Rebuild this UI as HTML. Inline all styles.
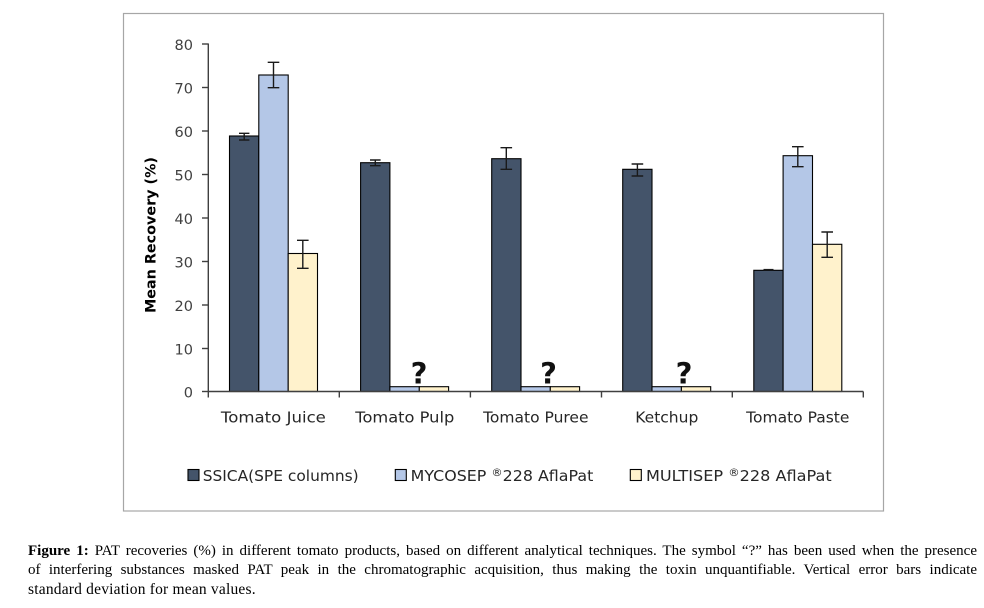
<!DOCTYPE html>
<html>
<head>
<meta charset="utf-8">
<style>
  html, body { margin:0; padding:0; background:#fff; }
  body { width:984px; height:608px; position:relative; overflow:hidden; }
  svg { position:absolute; left:0; top:0; }
  .cap { position:absolute; left:28px; width:949px; font-family:"Liberation Serif", serif; font-size:15px; line-height:19px; color:#000; }
  .j { text-align:justify; text-align-last:justify; }
</style>
</head>
<body>
<svg width="984" height="608" viewBox="0 0 984 608" xmlns="http://www.w3.org/2000/svg">
  <rect x="123.5" y="13.5" width="760" height="497.5" fill="#fff" stroke="#a6a6a6" stroke-width="1.2"/>

  <!-- y axis -->
  <g stroke="#404040" stroke-width="1.4" fill="none">
    <line x1="208.3" y1="43.5" x2="208.3" y2="391.5"/>
    <line x1="202" y1="44" x2="208.3" y2="44"/>
    <line x1="202" y1="87.5" x2="208.3" y2="87.5"/>
    <line x1="202" y1="131" x2="208.3" y2="131"/>
    <line x1="202" y1="174.5" x2="208.3" y2="174.5"/>
    <line x1="202" y1="218" x2="208.3" y2="218"/>
    <line x1="202" y1="261.5" x2="208.3" y2="261.5"/>
    <line x1="202" y1="305" x2="208.3" y2="305"/>
    <line x1="202" y1="348.5" x2="208.3" y2="348.5"/>
    <line x1="202" y1="391.5" x2="208.3" y2="391.5"/>
  </g>
  <g font-family="DejaVu Sans, Verdana, sans-serif" font-size="14.5" fill="#404040" text-anchor="end">
    <text x="193" y="50">80</text>
    <text x="193" y="93.5">70</text>
    <text x="193" y="137">60</text>
    <text x="193" y="180.5">50</text>
    <text x="193" y="224">40</text>
    <text x="193" y="267.5">30</text>
    <text x="193" y="311">20</text>
    <text x="193" y="354.5">10</text>
    <text x="193" y="397.5">0</text>
  </g>
  <text transform="translate(155.5,235) rotate(-90)" font-family="DejaVu Sans, Verdana, sans-serif" font-weight="bold" font-size="14.5" fill="#000" text-anchor="middle" textLength="156" lengthAdjust="spacingAndGlyphs">Mean Recovery (%)</text>

  <!-- bars -->
  <g stroke="#000" stroke-width="1.1">
    <rect x="229.5" y="136" width="29.3" height="255.5" fill="#44546a"/>
    <rect x="258.8" y="75" width="29.4" height="316.5" fill="#b4c7e7"/>
    <rect x="288.2" y="253.5" width="29.3" height="138" fill="#fff2cc"/>
    <rect x="360.6" y="162.7" width="29.3" height="228.8" fill="#44546a"/>
    <rect x="389.9" y="386.7" width="29.4" height="4.8" fill="#b4c7e7"/>
    <rect x="419.3" y="386.7" width="29.3" height="4.8" fill="#fff2cc"/>
    <rect x="491.7" y="158.7" width="29.3" height="232.8" fill="#44546a"/>
    <rect x="521" y="386.7" width="29.3" height="4.8" fill="#b4c7e7"/>
    <rect x="550.3" y="386.7" width="29.3" height="4.8" fill="#fff2cc"/>
    <rect x="622.7" y="169.3" width="29.3" height="222.2" fill="#44546a"/>
    <rect x="652" y="386.7" width="29.4" height="4.8" fill="#b4c7e7"/>
    <rect x="681.4" y="386.7" width="29.3" height="4.8" fill="#fff2cc"/>
    <rect x="753.8" y="270.3" width="29.3" height="121.2" fill="#44546a"/>
    <rect x="783.1" y="155.7" width="29.4" height="235.8" fill="#b4c7e7"/>
    <rect x="812.5" y="244.3" width="29.3" height="147.2" fill="#fff2cc"/>
  </g>

  <!-- error bars -->
  <g stroke="#1a1a1a" stroke-width="1.4" fill="none">
    <path d="M244.2 133.3V140M239 133.3H249.4M239 140H249.4"/>
    <path d="M273.5 62.3V87.7M267.7 62.3H279.3M267.7 87.7H279.3"/>
    <path d="M302.8 240.3V268.3M297 240.3H308.6M297 268.3H308.6"/>
    <path d="M375.3 160V165.7M370 160H380.6M370 165.7H380.6"/>
    <path d="M506.3 147.7V169.3M500.5 147.7H512.1M500.5 169.3H512.1"/>
    <path d="M637.4 164V176M631.6 164H643.2M631.6 176H643.2"/>
    <path d="M763.5 269.6H773.5"/>
    <path d="M797.8 146.7V166.7M792 146.7H803.6M792 166.7H803.6"/>
    <path d="M827.2 232V257.3M821.4 232H833M821.4 257.3H833"/>
  </g>

  <!-- question marks -->
  <g font-family="DejaVu Sans, Verdana, sans-serif" font-weight="bold" font-size="29" fill="#111" text-anchor="middle">
    <text x="419" y="383.5">?</text>
    <text x="548.5" y="383.5">?</text>
    <text x="684" y="383.5">?</text>
  </g>

  <!-- x axis -->
  <g stroke="#404040" stroke-width="1.4" fill="none">
    <line x1="208.3" y1="391.5" x2="863.3" y2="391.5"/>
    <line x1="208.3" y1="391.5" x2="208.3" y2="397.5"/>
    <line x1="339.3" y1="391.5" x2="339.3" y2="397.5"/>
    <line x1="470.4" y1="391.5" x2="470.4" y2="397.5"/>
    <line x1="601.5" y1="391.5" x2="601.5" y2="397.5"/>
    <line x1="732.3" y1="391.5" x2="732.3" y2="397.5"/>
    <line x1="863.3" y1="391.5" x2="863.3" y2="397.5"/>
  </g>
  <g font-family="DejaVu Sans, Verdana, sans-serif" font-size="15.5" fill="#262626" text-anchor="middle">
    <text x="273.4" y="422.5" textLength="105" lengthAdjust="spacingAndGlyphs">Tomato Juice</text>
    <text x="404.8" y="422.5" textLength="99" lengthAdjust="spacingAndGlyphs">Tomato Pulp</text>
    <text x="535.8" y="422.5">Tomato Puree</text>
    <text x="666.8" y="422.5">Ketchup</text>
    <text x="797.8" y="422.5">Tomato Paste</text>
  </g>

  <!-- legend -->
  <g stroke="#000" stroke-width="1.1">
    <rect x="188" y="469.5" width="11" height="11" fill="#44546a"/>
    <rect x="395.3" y="469.5" width="11" height="11" fill="#b4c7e7"/>
    <rect x="630.3" y="469.5" width="11" height="11" fill="#fff2cc"/>
  </g>
  <g font-family="DejaVu Sans, Verdana, sans-serif" font-size="15.5" fill="#262626">
    <text x="202.7" y="481" textLength="156" lengthAdjust="spacingAndGlyphs">SSICA(SPE columns)</text>
    <text x="410.7" y="481" textLength="182.6" lengthAdjust="spacingAndGlyphs">MYCOSEP <tspan font-size="11" dy="-5">®</tspan><tspan dy="5">228 AflaPat</tspan></text>
    <text x="646" y="481" textLength="185.7" lengthAdjust="spacingAndGlyphs">MULTISEP <tspan font-size="11" dy="-5">®</tspan><tspan dy="5">228 AflaPat</tspan></text>
  </g>
</svg>

<div class="cap" style="top:541.5px;">
  <div class="j"><b>Figure 1:</b> PAT recoveries (%) in different tomato products, based on different analytical techniques. The symbol “?” has been used when the presence</div>
  <div class="j">of interfering substances masked PAT peak in the chromatographic acquisition, thus making the toxin unquantifiable. Vertical error bars indicate</div>
  <div style="letter-spacing:0.2px; font-size:15.5px;">standard deviation for mean values.</div>
</div>
</body>
</html>
